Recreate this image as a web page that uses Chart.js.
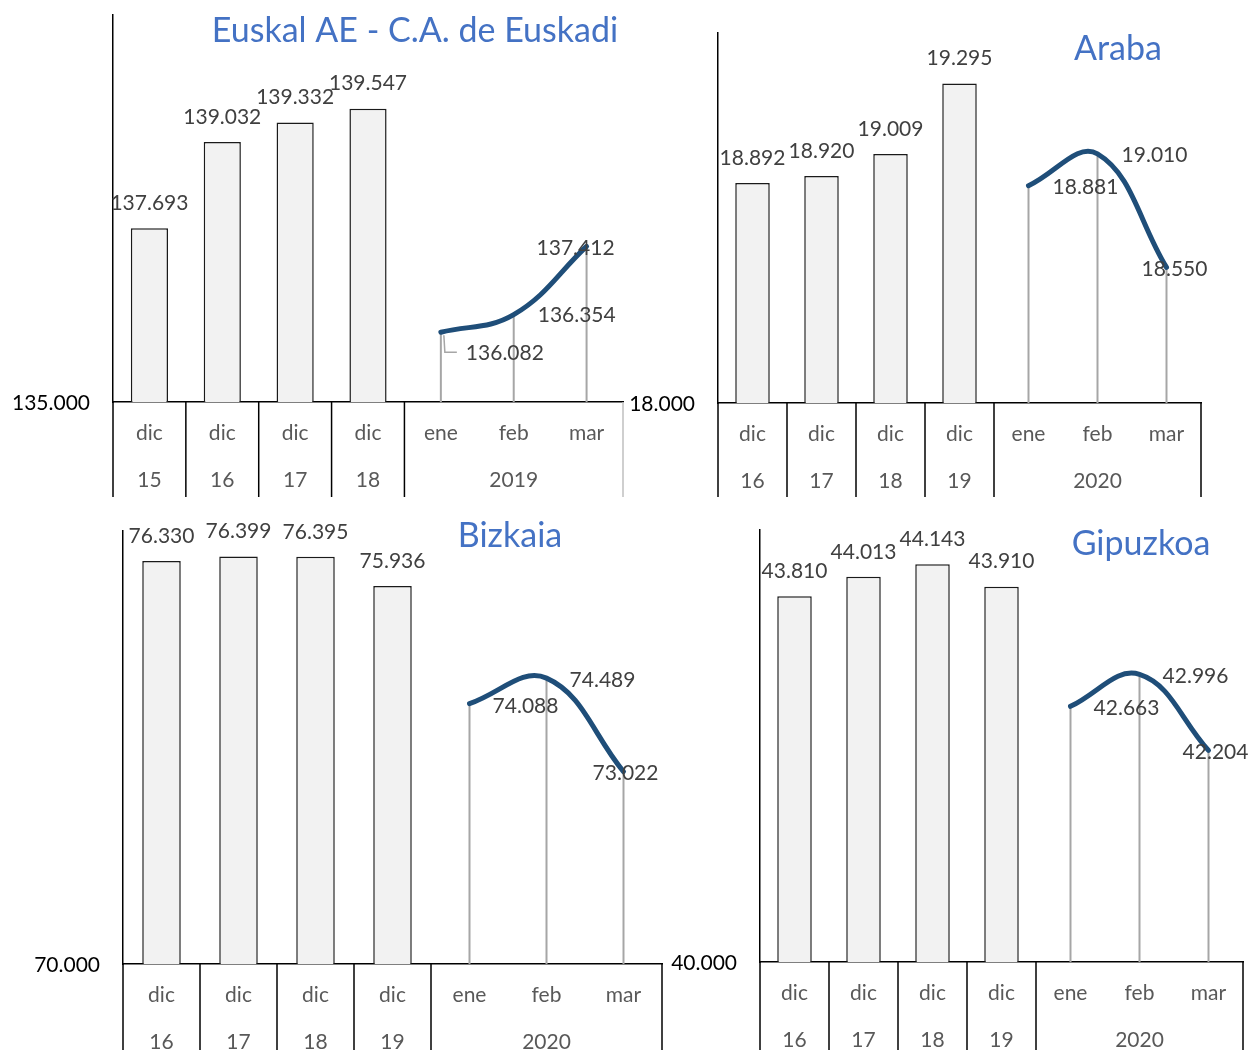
<!DOCTYPE html>
<html><head><meta charset="utf-8">
<script src="https://cdn.jsdelivr.net/npm/chart.js@4.4.1/dist/chart.umd.min.js"></script>
<style>
html,body{margin:0;padding:0;background:#fff;}
body{width:1250px;height:1050px;position:relative;overflow:hidden;}
canvas{position:absolute;}
</style></head><body>
<canvas id="c1" style="left:0;top:0" width="625" height="497"></canvas>
<canvas id="c2" style="left:625px;top:0" width="625" height="497"></canvas>
<canvas id="c3" style="left:0;top:500px" width="665" height="550"></canvas>
<canvas id="c4" style="left:665px;top:500px" width="585" height="550"></canvas>
<script>
// ---- data ----
const months = ['ene', 'feb', 'mar'];

const euskalTitle = 'Euskal AE - C.A. de Euskadi';
const euskalYears = ['15', '16', '17', '18'];
const euskalGroup = '2019';
const euskalDic = [137693, 139032, 139332, 139547];
const euskalMonths = [136082, 136354, 137412];
const euskalAxis = [135000, 141000];

const arabaTitle = 'Araba';
const arabaYears = ['16', '17', '18', '19'];
const arabaGroup = '2020';
const arabaDic = [18892, 18920, 19009, 19295];
const arabaMonths = [18881, 19010, 18550];
const arabaAxis = [18000, 19500];

const bizkaiaTitle = 'Bizkaia';
const bizkaiaYears = ['16', '17', '18', '19'];
const bizkaiaGroup = '2020';
const bizkaiaDic = [76330, 76399, 76395, 75936];
const bizkaiaMonths = [74088, 74489, 73022];
const bizkaiaAxis = [70000, 76800];

const gipuzkoaTitle = 'Gipuzkoa';
const gipuzkoaYears = ['16', '17', '18', '19'];
const gipuzkoaGroup = '2020';
const gipuzkoaDic = [43810, 44013, 44143, 43910];
const gipuzkoaMonths = [42663, 42996, 42204];
const gipuzkoaAxis = [40000, 44500];

// ---- helpers ----
Chart.defaults.font.family = 'Lato, "Open Sans", sans-serif';
const FONT = '21px Lato, "Open Sans", sans-serif';
function fmt(v) {
  return String(Math.round(v)).replace(/\B(?=(\d{3})+(?!\d))/g, '.');
}

const panelPlugin = {
  id: 'panel',
  beforeDatasetsDraw(chart, args, o) {
    const {ctx, chartArea} = chart;
    const meta = chart.getDatasetMeta(1);
    ctx.save();
    ctx.strokeStyle = '#a6a6a6';
    ctx.lineWidth = 2;
    meta.data.forEach(pt => {
      if (pt.skip) return;
      ctx.beginPath();
      ctx.moveTo(pt.x, pt.y);
      ctx.lineTo(pt.x, chartArea.bottom);
      ctx.stroke();
    });
    ctx.restore();
  },
  afterDraw(chart, args, o) {
    const {ctx, chartArea} = chart;
    const xs = chart.scales.x, ys = chart.scales.y;
    const n = chart.data.labels.length;
    const w = xs.getPixelForValue(1) - xs.getPixelForValue(0);
    const H = chart.height;
    ctx.save();
    // separators
    ctx.lineWidth = 1.5;
    const nd = o.years.length;
    for (let i = 0; i <= nd; i++) {
      const x = xs.getPixelForValue(i) - w / 2;
      ctx.strokeStyle = '#000';
      ctx.beginPath(); ctx.moveTo(x, chartArea.bottom); ctx.lineTo(x, H); ctx.stroke();
    }
    ctx.strokeStyle = o.rightEdge;
    ctx.beginPath(); ctx.moveTo(chartArea.right, chartArea.bottom); ctx.lineTo(chartArea.right, H); ctx.stroke();

    // x labels
    ctx.font = FONT;
    ctx.fillStyle = '#595959';
    ctx.textAlign = 'center';
    ctx.textBaseline = 'middle';
    const row1 = chart.data.labels.map((l, i) => i < nd ? 'dic' : l);
    row1.forEach((l, i) => ctx.fillText(l, xs.getPixelForValue(i), chartArea.bottom + 31));
    o.years.forEach((y, i) => ctx.fillText(y, xs.getPixelForValue(i), chartArea.bottom + 78));
    ctx.fillText(o.group, (xs.getPixelForValue(nd) + xs.getPixelForValue(n - 1)) / 2, chartArea.bottom + 78);

    // y min label
    ctx.fillStyle = '#000';
    ctx.textAlign = 'right';
    ctx.fillText(fmt(ys.min), chartArea.left - 23, ys.getPixelForValue(ys.min) + 1);

    // bar labels
    ctx.fillStyle = '#404040';
    ctx.textAlign = 'center';
    const bm = chart.getDatasetMeta(0);
    bm.data.forEach((b, i) => {
      const v = chart.data.datasets[0].data[i];
      if (v == null) return;
      ctx.fillText(fmt(v), b.x, b.y - 25);
    });
    // line labels
    const lm = chart.getDatasetMeta(1);
    let k = 0;
    lm.data.forEach((p, i) => {
      const v = chart.data.datasets[1].data[i];
      if (v == null) return;
      const off = o.lineOffsets[k++];
      ctx.fillText(fmt(v), p.x + off[0], p.y + off[1] + 1);
    });
    // leader line
    if (o.leader) {
      const p = lm.data[nd];
      ctx.strokeStyle = '#a6a6a6';
      ctx.lineWidth = 1.5;
      ctx.beginPath();
      ctx.moveTo(p.x + 3, p.y + 3);
      ctx.lineTo(p.x + 4, p.y + 20);
      ctx.lineTo(p.x + 16, p.y + 20);
      ctx.stroke();
    }
    // title
    ctx.fillStyle = '#4472c4';
    ctx.font = '34px Lato, "Open Sans", sans-serif';
    ctx.textAlign = 'center';
    ctx.fillText(o.title, o.titlePos[0], o.titlePos[1] + 1);
    ctx.restore();
  }
};

function makePanel(id, title, years, group, dic, mon, axis, style) {
  const labels = years.map(y => 'dic ' + y).concat(months);
  const barData = dic.concat(mon.map(() => null));
  const lineData = dic.map(() => null).concat(mon);
  new Chart(document.getElementById(id), {
    type: 'bar',
    data: {
      labels,
      datasets: [
        {
          type: 'bar', data: barData,
          backgroundColor: '#f2f2f2', borderColor: '#1a1a1a', borderWidth: 1.5,
          categoryPercentage: 1, barPercentage: style.barPct, order: 2
        },
        {
          type: 'line', data: lineData,
          borderColor: '#1f4e79', borderWidth: 5, tension: 0.4,
          pointRadius: 0, fill: false, spanGaps: false, order: 1,
          borderCapStyle: 'round'
        }
      ]
    },
    options: {
      responsive: false, animation: false,
      layout: {padding: style.padding},
      plugins: {
        legend: {display: false}, tooltip: {enabled: false}, title: {display: false},
        panel: {title, years, group, lineOffsets: style.lineOffsets, titlePos: style.titlePos,
                rightEdge: style.rightEdge, leader: style.leader}
      },
      scales: {
        x: {offset: true, grid: {display: false, drawTicks: false}, ticks: {display: false},
            border: {display: true, color: '#000', width: 1.5}},
        y: {min: axis[0], max: axis[1], grid: {display: false, drawTicks: false}, ticks: {display: false},
            border: {display: true, color: '#000', width: 1.5}}
      }
    },
    plugins: [panelPlugin]
  });
}

makePanel('c1', euskalTitle, euskalYears, euskalGroup, euskalDic, euskalMonths, euskalAxis, {
  padding: {left: 113, right: 2, top: 15, bottom: 95}, barPct: 0.51,
  lineOffsets: [[64, 20], [63, 0], [-11, 1]], titlePos: [415, 30], rightEdge: '#bfbfbf', leader: true
});
makePanel('c2', arabaTitle, arabaYears, arabaGroup, arabaDic, arabaMonths, arabaAxis, {
  padding: {left: 93, right: 49, top: 33, bottom: 94}, barPct: 0.5,
  lineOffsets: [[57, 1], [57, 0], [8, 1]], titlePos: [493, 48], rightEdge: '#000', leader: false
});
makePanel('c3', bizkaiaTitle, bizkaiaYears, bizkaiaGroup, bizkaiaDic, bizkaiaMonths, bizkaiaAxis, {
  padding: {left: 123, right: 3, top: 31, bottom: 86}, barPct: 0.5,
  lineOffsets: [[56, 2], [56, 1], [2, 1]], titlePos: [510, 35], rightEdge: '#000', leader: false
});
makePanel('c4', gipuzkoaTitle, gipuzkoaYears, gipuzkoaGroup, gipuzkoaDic, gipuzkoaMonths, gipuzkoaAxis, {
  padding: {left: 95, right: 7, top: 30, bottom: 88}, barPct: 0.5,
  lineOffsets: [[56, 1], [56, 1], [7, 1]], titlePos: [476, 43], rightEdge: '#000', leader: false
});
</script>
</body></html>
